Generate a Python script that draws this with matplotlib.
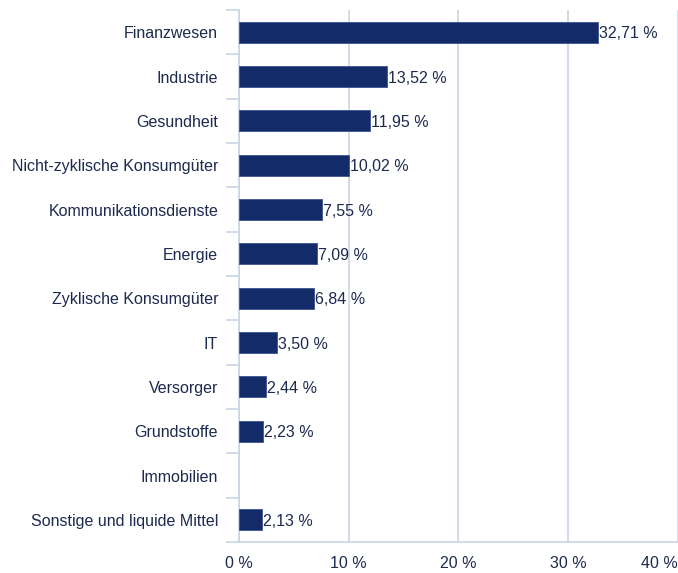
import matplotlib.pyplot as plt
import numpy as np

plt.rcParams['font.family'] = ['Liberation Sans', 'DejaVu Sans']

sectors = ['Finanzwesen', 'Industrie', 'Gesundheit', 'Nicht-zyklische Konsumgüter',
           'Kommunikationsdienste', 'Energie', 'Zyklische Konsumgüter', 'IT',
           'Versorger', 'Grundstoffe', 'Immobilien', 'Sonstige und liquide Mittel']
weights = [32.71, 13.52, 11.95, 10.02, 7.55, 7.09, 6.84, 3.50, 2.44, 2.23, 0.0, 2.13]
x_ticks = [0, 10, 20, 30, 40]

BAR = '#132b69'
GRID = '#c9d4e4'
TEXT = '#1c2a4f'
FS = 11.5

fig = plt.figure(figsize=(6.78, 5.73), dpi=100)
ax = fig.add_axes([0.3525, 0.0541, 0.6475, 0.9284])

y = np.arange(len(sectors))
lw = [0.6 if w > 0 else 0 for w in weights]
ax.barh(y, weights, height=0.47, color=BAR, edgecolor='#3d5390', linewidth=lw, zorder=3)

for yi, w in zip(y, weights):
    if w > 0:
        ax.text(w + 0.08, yi + 0.04, f'{w:.2f} %'.replace('.', ','), va='center', ha='left',
                fontsize=FS, color=TEXT, zorder=4)

ax.set_ylim(len(sectors) - 0.5, -0.5)
ax.set_xlim(0, 40)

ax.set_yticks(y)
ax.set_yticklabels(sectors, fontsize=FS, color=TEXT)
ax.set_yticks(np.arange(len(sectors) + 1) - 0.5, minor=True)
ax.tick_params(axis='y', which='major', length=0, pad=15)
ax.tick_params(axis='y', which='minor', length=9.4, color=GRID, width=1.2)

ax.set_xticks(x_ticks)
labels = ax.set_xticklabels([f'{t} %' for t in x_ticks], fontsize=FS, color=TEXT)
labels[-1].set_horizontalalignment('right')
ax.tick_params(axis='x', length=0, pad=10)

ax.grid(axis='x', color=GRID, linewidth=1.2, zorder=0)
for side in ['top', 'right']:
    ax.spines[side].set_visible(False)
for side in ['left', 'bottom']:
    ax.spines[side].set_color(GRID)
    ax.spines[side].set_linewidth(1.2)

fig.savefig('out.png', dpi=100)
